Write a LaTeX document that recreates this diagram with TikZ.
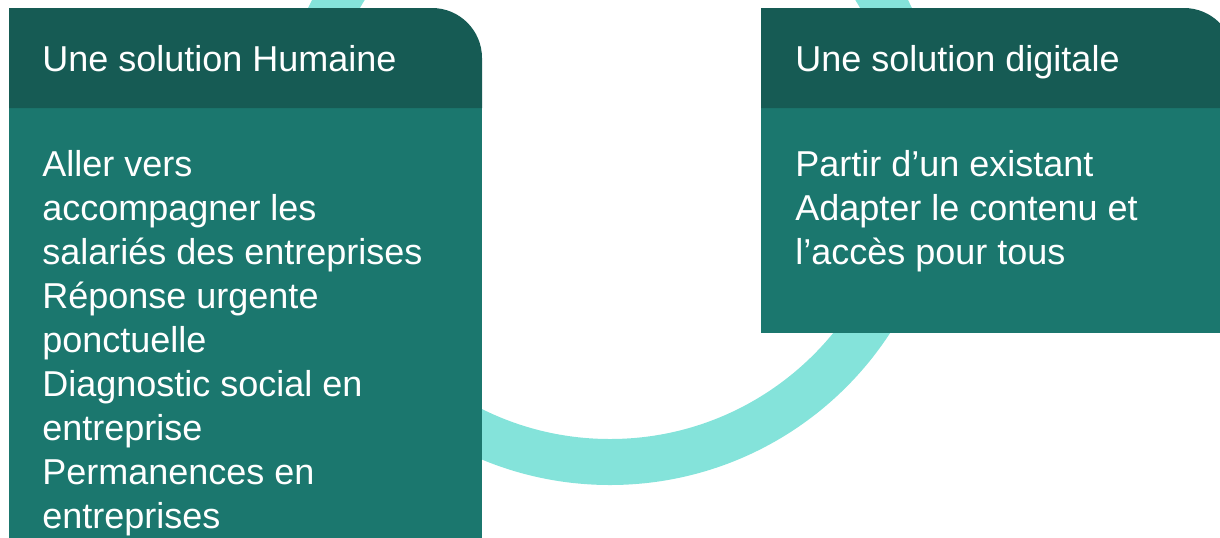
\documentclass[tikz,border=0pt]{standalone}
\usepackage{fontspec}
\setmainfont{Liberation Sans}
\definecolor{entete}{RGB}{22,91,84}
\definecolor{fond}{RGB}{27,119,110}
\definecolor{anneau}{RGB}{132,227,218}

\begin{document}
\begin{tikzpicture}[x=0.5pt,y=-0.5pt,
    titre/.style={anchor=base west,inner sep=0pt,text=white,font=\fontsize{18}{22}\selectfont},
    corps/.style={titre,align=left}]
  \useasboundingbox (0,0) rectangle (1220,537);
  \draw[anneau,line width=23pt] (610,151) circle[radius=311];

  % carte de gauche (base = derniere ligne)
  \fill[fond] (9,108) rectangle (482,545);
  \fill[entete] (9,108) -- (9,8) [rounded corners=25pt] -- (482,8) [sharp corners] -- (482,108) -- cycle;
  \node[titre] (humainTitre) at (42,71) {Une solution Humaine};
  \node[corps] (humainCorps) at (42,528) {Aller vers\\accompagner les\\salariés des entreprises\\Réponse urgente\\ponctuelle\\Diagnostic social en\\entreprise\\Permanences en\\entreprises};

  % carte de droite
  \fill[fond] (761,108) rectangle (1234,333);
  \fill[entete] (761,108) -- (761,8) [rounded corners=25pt] -- (1234,8) [sharp corners] -- (1234,108) -- cycle;
  \node[titre] (digitalTitre) at (795,71) {Une solution digitale};
  \node[corps] (digitalCorps) at (795,264) {Partir d’un existant\\Adapter le contenu et\\l’accès pour tous};
\end{tikzpicture}
\end{document}
